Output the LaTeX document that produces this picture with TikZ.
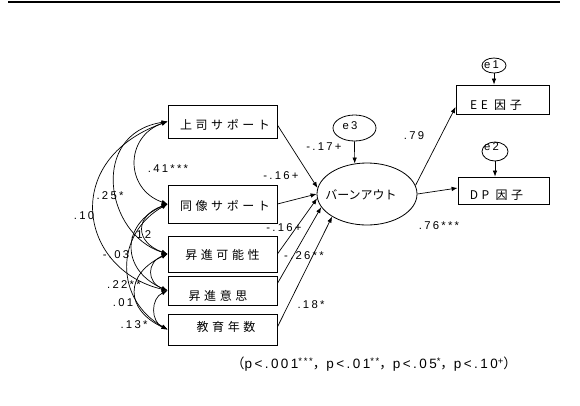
\documentclass[tikz,border=0pt]{standalone}
\usepackage{fontspec}
\setmainfont{Liberation Sans}
\newfontfamily\lab{Liberation Sans}[LetterSpace=20]
\newfontfamily\notefont{Liberation Sans}[LetterSpace=18]
\newfontfamily\jp{Noto Sans CJK JP}[LetterSpace=30]
\newfontfamily\jpn{Noto Sans CJK JP}
\newcommand{\supmark}[1]{\raisebox{4pt}{\fontsize{9.5}{9.5}\selectfont #1}}
\usetikzlibrary{arrows.meta,shapes.geometric}
\begin{document}
\begin{tikzpicture}[x=1pt,y=-1pt,
  box/.style={draw, line width=0.8pt, inner sep=0pt, minimum width=109pt},
  ell/.style={ellipse, draw, line width=0.8pt, inner sep=0pt},
  lbl/.style={inner sep=0pt, font=\lab\fontsize{11.3}{13}\selectfont},
  jt/.style={inner sep=0pt, font=\jp\fontsize{12}{14}\selectfont},
  arr/.style={line width=0.7pt, -{Latex[length=6pt,width=4.5pt]}},
  cor/.style={line width=0.7pt, {Latex[length=6pt,width=4.5pt]}-{Latex[length=6pt,width=4.5pt]}},
]
\useasboundingbox (0,0) rectangle (580,405);
\fill[white] (0,0) rectangle (580,405);
\draw[line width=2pt] (8,1.5) -- (560,1.5);

% boxes
\node[box, minimum height=33pt] (boss) at (222.5,121.5) {};
\node[box, minimum height=38pt] (peer) at (222.5,204) {};
\node[box, minimum height=36pt] (cap) at (222.5,254) {};
\node[box, minimum height=29pt] (will) at (222.5,290.5) {};
\node[box, minimum height=31pt] (edu) at (222.5,329.5) {};
\node[box, minimum width=93pt, minimum height=29pt] (ee) at (502.5,99.5) {};
\node[box, minimum width=91pt, minimum height=27pt] (dp) at (503.5,190.5) {};

\node[jt] (t1) at (225,125) {上司サポート};
\node[jt] (t2) at (225,206) {同像サポート};
\node[jt] (t3) at (222.5,255) {昇進可能性};
\node[jt] (t4) at (218,296) {昇進意思};
\node[jt] (t5) at (226,327) {教育年数};
\node[jt] (t6) at (496,105) {EE 因子};
\node[jt] (t7) at (496.5,195) {DP 因子};

% ellipses
\node[ell, minimum width=100pt, minimum height=62pt] (burn) at (367,194) {};
\node[inner sep=0pt, font=\jpn\fontsize{12}{14}\selectfont] (burnt) at (361,195) {バーンアウト};
\node[ell, minimum width=43pt, minimum height=26pt] (e3) at (354.5,128) {};
\node[lbl] (e3t) at (350,126) {e3};
\node[ell, minimum width=24pt, minimum height=15pt] (e1) at (494,65.5) {};
\node[lbl] (e1t) at (491.5,65) {e1};
\node[ell, minimum width=26pt, minimum height=19pt] (e2) at (495,151.5) {};
\node[lbl] (e2t) at (491.5,147) {e2};

% paths
\draw[arr] ([yshift=-3.5pt]boss.east) -- (burn.173);
\draw[arr] (peer.east) -- (burn.180);
\draw[arr] (cap.east) -- (burn.185);
\draw[arr] ([yshift=7pt]will.east) -- (burn.196);
\draw[arr] ([yshift=2.5pt]edu.east) -- (burn.213);
\draw[arr] (e3.south) -- (burn.112);
\draw[arr] (burn.10) -- ([yshift=-7.5pt]ee.west);
\draw[arr] (burn.0) -- ([yshift=2.5pt]dp.west);
\draw[arr] (e1.south) -- (e1.south |- ee.north);
\draw[arr] (e2.south) -- (e2.south |- dp.north);

% correlations
\draw[cor] (boss.west) .. controls +(-43,15) and +(-43,-15) .. (peer.west);
\draw[cor] (boss.west) .. controls +(-78,12) and +(-63,-20) .. (cap.west);
\draw[cor] (boss.west) .. controls +(-108,38.5) and +(-88,-20.5) .. (will.west);
\draw[cor] (peer.west) .. controls +(-33,12) and +(-33,-12) .. (cap.west);
\draw[cor] (peer.west) .. controls +(-47,20) and +(-47,-20) .. (will.west);
\draw[cor] (peer.west) .. controls +(-53,30) and +(-53,-30) .. (edu.west);
\draw[cor] (cap.west) .. controls +(-21,8) and +(-21,-8) .. (will.west);
\draw[cor] (cap.west) .. controls +(-43,20) and +(-43,-20) .. (edu.west);
\draw[cor] (will.west) .. controls +(-17,8) and +(-17,-8) .. (edu.west);

% labels
\node[lbl] (l1) at (168,169) {.41***};
\node[lbl] (l2) at (281,176) {-.16+};
\node[lbl] (l3) at (324,147) {-.17+};
\node[lbl] (l4) at (284,228) {-.16+};
\node[lbl] (l5) at (304,256) {-.26**};
\node[lbl] (l6) at (311,305) {.18*};
\node[lbl] (l7) at (414,136) {.79};
\node[lbl] (l8) at (439,226) {.76***};
\node[lbl] (l9) at (110,196) {.25*};
\node[lbl] (l10) at (84,216) {.10};
\node[lbl] (l11) at (141,235) {.12};
\node[lbl] (l12) at (116,255) {-.03};
\node[lbl] (l13) at (124,285) {.22**};
\node[lbl] (l14) at (123,303) {.01};
\node[lbl] (l15) at (134,325) {.13*};

\node[inner sep=0pt, font=\notefont\fontsize{13.5}{16}\selectfont] (note) at (374,364)
  {{\jpn （}p<.001\supmark{***}{\jpn ，}p<.01\supmark{**}{\jpn ，}p<.05\supmark{*}{\jpn ，}p<.10\supmark{+}{\jpn ）}};
\end{tikzpicture}
\end{document}
